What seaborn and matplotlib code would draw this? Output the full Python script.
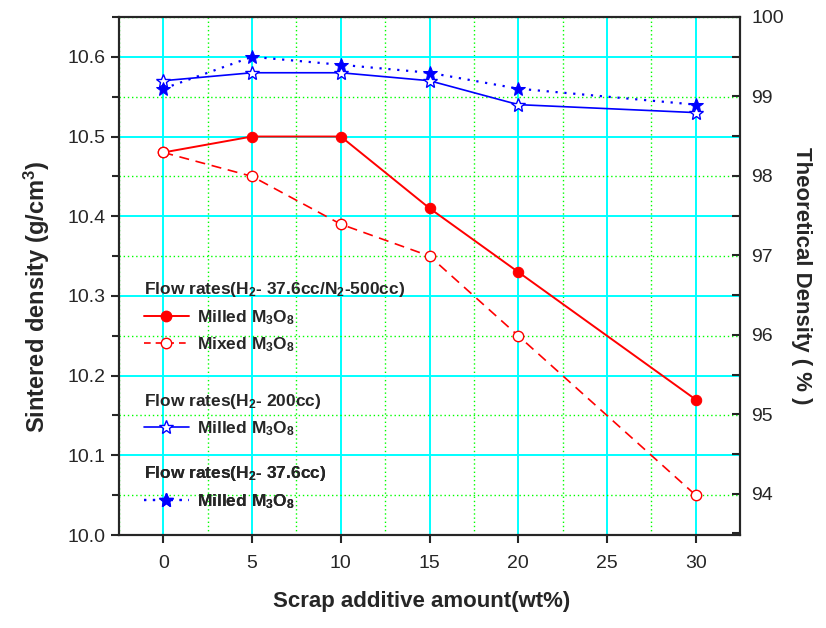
import numpy as np
import pandas as pd
import matplotlib
matplotlib.use("Agg")
import matplotlib.pyplot as plt
import seaborn as sns
from matplotlib.lines import Line2D
from matplotlib.ticker import MultipleLocator

# scrap additive amount (wt%)
scrap = [0, 5, 10, 15, 20, 30]

# sintered density (g/cm3)
milled_h2n2 = [10.48, 10.50, 10.50, 10.41, 10.33, 10.17]
mixed_h2n2 = [10.48, 10.45, 10.39, 10.35, 10.25, 10.05]
milled_h2_200 = [10.57, 10.58, 10.58, 10.57, 10.54, 10.53]
milled_h2_376 = [10.56, 10.60, 10.59, 10.58, 10.56, 10.54]

headers = ["Flow rates(H$_2$- 37.6cc/N$_2$-500cc)",
           "Flow rates(H$_2$- 200cc)",
           "Flow rates(H$_2$- 37.6cc)"]
labels = ["Milled M$_3$O$_8$", "Mixed M$_3$O$_8$", "Milled M$_3$O$_8$", "Milled M$_3$O$_8$"]

sns.set_style("ticks")
plt.rcParams["font.family"] = ["Liberation Sans", "DejaVu Sans"]
plt.rcParams["mathtext.default"] = "regular"

df = pd.DataFrame({"scrap": scrap, "milled_h2n2": milled_h2n2, "mixed_h2n2": mixed_h2n2,
                   "milled_h2_200": milled_h2_200, "milled_h2_376": milled_h2_376})

fig = plt.figure(figsize=(8.26, 6.28), dpi=100)
ax = fig.add_axes([0.144, 0.148, 0.752, 0.825])

# grid first so it sits under the lines
ax.set_axisbelow(True)
ax.xaxis.set_major_locator(MultipleLocator(5))
ax.xaxis.set_minor_locator(MultipleLocator(2.5))
ax.yaxis.set_major_locator(MultipleLocator(0.1))
ax.yaxis.set_minor_locator(MultipleLocator(0.05))
ax.grid(which="major", color="#00ffff", linewidth=1.4, linestyle="-")
ax.grid(which="minor", color="#00ff00", linewidth=1.0, linestyle=(0, (1, 2)))

sns.lineplot(data=df, x="scrap", y="milled_h2n2", ax=ax, color="red", linewidth=1.4,
             marker="o", markersize=7.5, markerfacecolor="red", markeredgecolor="red")
sns.lineplot(data=df, x="scrap", y="mixed_h2n2", ax=ax, color="red", linewidth=1.2,
             linestyle=(0, (6, 4)), marker="o", markersize=7.5, markerfacecolor="white",
             markeredgecolor="red", markeredgewidth=1.0)
sns.lineplot(data=df, x="scrap", y="milled_h2_200", ax=ax, color="blue", linewidth=1.2,
             marker="*", markersize=10, markerfacecolor="white", markeredgecolor="blue",
             markeredgewidth=1.0)
sns.lineplot(data=df, x="scrap", y="milled_h2_376", ax=ax, color="blue", linewidth=1.6,
             linestyle=(0, (1, 3)), marker="*", markersize=10, markerfacecolor="blue",
             markeredgecolor="blue")

ax.set_xlim(-2.5, 32.5)
ax.set_ylim(10.0, 10.65)
ax.set_xticks([0, 5, 10, 15, 20, 25, 30])
ax.set_yticks([10.0, 10.1, 10.2, 10.3, 10.4, 10.5, 10.6])
ax.set_yticklabels(["10.0", "10.1", "10.2", "10.3", "10.4", "10.5", "10.6"])
ax.tick_params(axis="both", which="major", direction="out", length=6, width=1.5, labelsize=14)
ax.tick_params(axis="x", which="major", pad=8)
ax.tick_params(axis="x", which="minor", length=0)
ax.tick_params(axis="y", which="minor", direction="out", length=5, width=1.5)
for sp in ax.spines.values():
    sp.set_linewidth(1.5)
    sp.set_color("black")

ax.set_xlabel("Scrap additive amount(wt%)", fontsize=16, fontweight="bold")
ax.set_ylabel("Sintered density (g/cm$^3$)", fontsize=17, fontweight="bold")
ax.xaxis.set_label_coords(0.488, -0.108)
ax.yaxis.set_label_coords(-0.108, 0.46)

ax2 = ax.twinx()
ax2.set_ylim(93.48, 100)
ax2.set_yticks([94, 95, 96, 97, 98, 99, 100])
ax2.yaxis.set_minor_locator(MultipleLocator(0.5))
ax2.tick_params(axis="y", which="both", direction="in", length=6, width=1.5, labelsize=14, pad=8)
ax2.grid(False)
for sp in ax2.spines.values():
    sp.set_linewidth(1.5)
ax2.set_ylabel("Theoretical Density ( % )", fontsize=16, fontweight="bold",
               rotation=-90, labelpad=20)

# legend in three titled groups
h_milled = Line2D([], [], color="red", linewidth=1.4, marker="o", markersize=7.5)
h_mixed = Line2D([], [], color="red", linewidth=1.2, linestyle=(0, (4, 3)), marker="o",
                 markersize=7.5, markerfacecolor="white")
h_200 = Line2D([], [], color="blue", linewidth=1.2, marker="*", markersize=10,
               markerfacecolor="white")
h_376 = Line2D([], [], color="blue", linewidth=1.6, linestyle=(0, (1, 3)), marker="*",
               markersize=10)

groups = [([h_milled, h_mixed], labels[0:2], headers[0], 0.515),
          ([h_200], labels[2:3], headers[1], 0.300),
          ([h_376], labels[3:4], headers[2], 0.160)]
for handles, labs, title, ytop in groups:
    leg = ax.legend(handles=handles, labels=labs, title=title, loc="upper left",
                    bbox_to_anchor=(0.02, ytop), frameon=False, alignment="left",
                    prop={"weight": "bold", "size": 12.5},
                    title_fontproperties={"weight": "bold", "size": 12.5},
                    handlelength=2.6, handletextpad=0.5, labelspacing=0.5,
                    borderpad=0.2)
    ax.add_artist(leg)

fig.savefig("out.png", dpi=100)
